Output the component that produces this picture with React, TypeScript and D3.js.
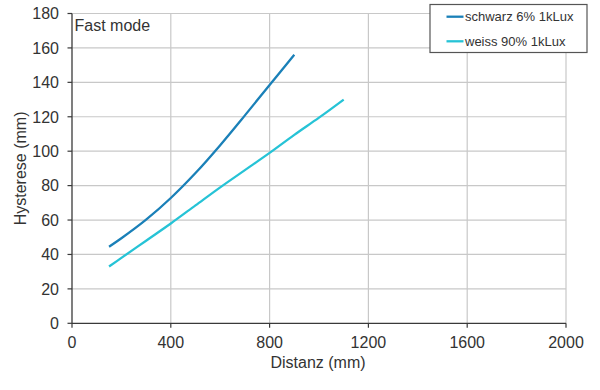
import React from "react";
import * as d3 from "d3";

const xTicks = [0, 400, 800, 1200, 1600, 2000];
const yTicks = [0, 20, 40, 60, 80, 100, 120, 140, 160, 180];

const schwarzX = [150, 200, 300, 400, 500, 600, 700, 800, 900];
const schwarzY = [44.5, 49.4, 60.2, 72.8, 87.3, 103.5, 120.8, 138.5, 156];

const weissX = [150, 200, 300, 400, 500, 600, 700, 800, 900, 1000, 1100];
const weissY = [33, 38, 48, 58, 68.5, 79, 89, 99, 109.5, 119.5, 130];

const seriesNames = ["schwarz 6% 1kLux", "weiss 90% 1kLux"];
const seriesColors = ["#1a80b8", "#26c3d6"];

export default function App() {
  const W = 600, H = 390;
  const left = 72, right = 566, top = 13.5, bottom = 323.3;
  const x = d3.scaleLinear().domain([0, 2000]).range([left, right]);
  const y = d3.scaleLinear().domain([0, 180]).range([bottom, top]);
  const line = d3
    .line<[number, number]>()
    .x((d) => x(d[0]))
    .y((d) => y(d[1]))
    .curve(d3.curveCatmullRom.alpha(0.5));
  const series = [
    schwarzX.map((v, i) => [v, schwarzY[i]] as [number, number]),
    weissX.map((v, i) => [v, weissY[i]] as [number, number]),
  ];
  const font = "'Liberation Sans', Arial, sans-serif";
  const axisColor = "#3a3a3a";
  const gridColor = "#c8c8c8";
  const textColor = "#333333";

  return (
    <svg
      width={W}
      height={H}
      style={{ position: "absolute", left: 0, top: 0, display: "block" }}
      fontFamily={font}
    >
      <rect x={0} y={0} width={W} height={H} fill="#ffffff" />
      {yTicks.filter((t) => t > 0).map((t) => (
        <line key={"gy" + t} x1={left} x2={right} y1={y(t)} y2={y(t)} stroke={gridColor} strokeWidth={1.2} />
      ))}
      {xTicks.filter((t) => t > 0).map((t) => (
        <line key={"gx" + t} x1={x(t)} x2={x(t)} y1={top} y2={bottom} stroke={gridColor} strokeWidth={1.2} />
      ))}
      <line x1={left} x2={left} y1={top} y2={bottom} stroke={axisColor} strokeWidth={1.3} />
      <line x1={left} x2={right} y1={bottom} y2={bottom} stroke={axisColor} strokeWidth={1.3} />
      {yTicks.map((t) => (
        <g key={"ty" + t}>
          <line x1={left - 4.5} x2={left} y1={y(t)} y2={y(t)} stroke={axisColor} strokeWidth={1.2} />
          <text x={59} y={y(t)} dy="0.36em" textAnchor="end" fontSize={16} fill={textColor}>
            {t}
          </text>
        </g>
      ))}
      {xTicks.map((t) => (
        <g key={"tx" + t}>
          <line x1={x(t)} x2={x(t)} y1={bottom} y2={bottom + 4.5} stroke={axisColor} strokeWidth={1.2} />
          <text x={x(t)} y={348} textAnchor="middle" fontSize={16} fill={textColor}>
            {t}
          </text>
        </g>
      ))}
      <text x={318} y={368} textAnchor="middle" fontSize={16} fill={textColor}>
        Distanz (mm)
      </text>
      <text
        transform={`translate(26,${(top + bottom) / 2}) rotate(-90)`}
        textAnchor="middle"
        fontSize={16}
        fill={textColor}
      >
        Hysterese (mm)
      </text>
      <text x={74.5} y={30.7} fontSize={16} fill={textColor}>
        Fast mode
      </text>
      {series.map((s, i) => (
        <path key={"s" + i} d={line(s) || ""} fill="none" stroke={seriesColors[i]} strokeWidth={2.3} />
      ))}
      <rect x={430} y={4.5} width={157} height={48} fill="#ffffff" stroke="#555555" strokeWidth={1.2} />
      {seriesNames.map((n, i) => (
        <g key={"l" + i}>
          <line x1={446.5} x2={463.5} y1={16.7 + i * 24.6} y2={16.7 + i * 24.6} stroke={seriesColors[i]} strokeWidth={2.3} />
          <text x={465} y={16.7 + i * 24.6} dy="0.36em" fontSize={13} fill={textColor}>
            {n}
          </text>
        </g>
      ))}
    </svg>
  );
}
